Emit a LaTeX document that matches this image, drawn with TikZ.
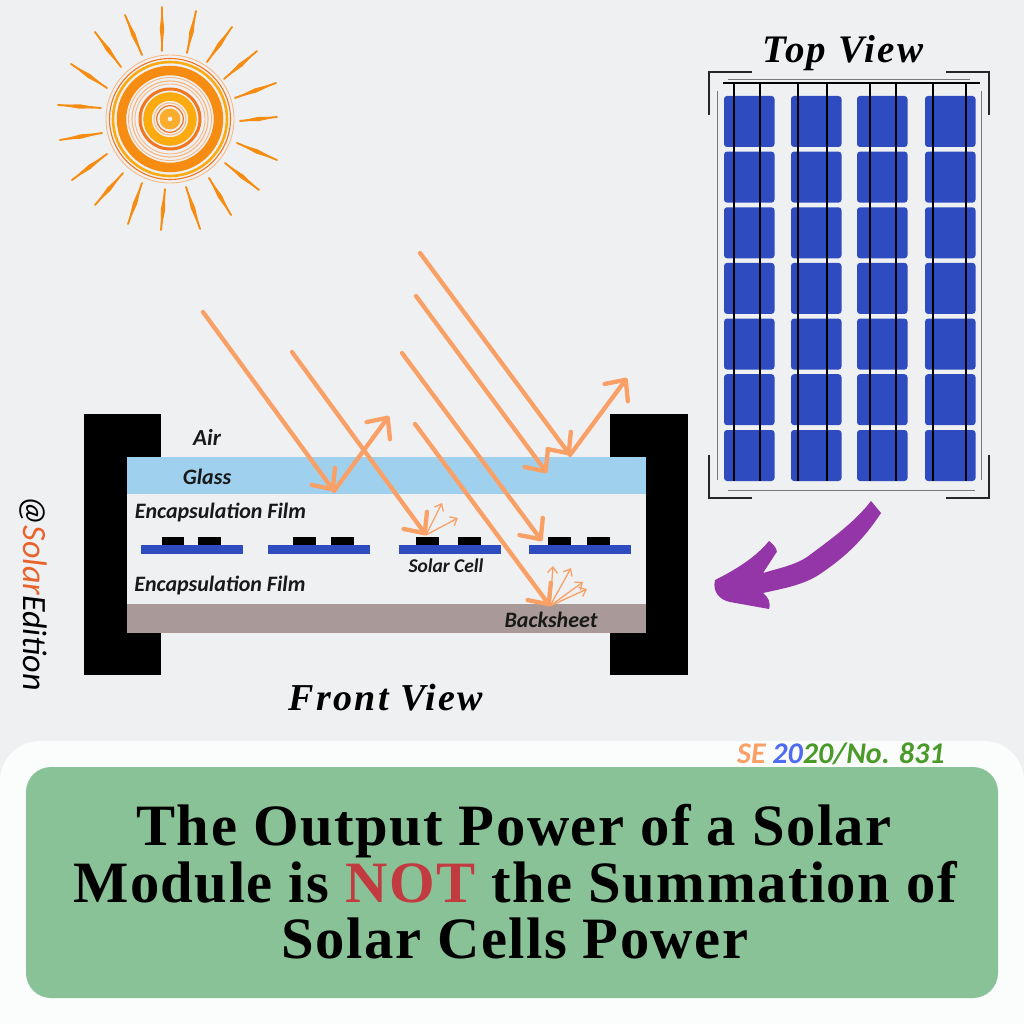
\documentclass[tikz,border=0pt]{standalone}
\usepackage{fontspec}
\setmainfont{Liberation Serif}
\setsansfont{Carlito}
\newfontfamily\titlefont[LetterSpace=2.5]{Liberation Serif}
\newfontfamily\viewfont[LetterSpace=6]{Liberation Serif}
\usetikzlibrary{arrows.meta,calc}

\definecolor{pagegrey}{HTML}{EFF0F2}
\definecolor{panelwhite}{HTML}{FBFCFC}
\definecolor{panelgreen}{HTML}{8AC298}
\definecolor{notred}{HTML}{C23B40}
\definecolor{beam}{HTML}{F9A066}
\definecolor{glassblue}{HTML}{9FD1EF}
\definecolor{backbrown}{HTML}{AA9999}
\definecolor{cellblue}{HTML}{2E4BC0}
\definecolor{bendpurple}{HTML}{9436A8}
\definecolor{sunorange}{HTML}{F68D12}
\definecolor{sunamber}{HTML}{FBAA0F}
\definecolor{sundeep}{HTML}{F2761E}
\definecolor{sunpale}{HTML}{F9B882}
\definecolor{solarorange}{HTML}{E8632B}
\definecolor{yearblue}{HTML}{4D6CF0}
\definecolor{yeargreen}{HTML}{4A9A2A}
\definecolor{railgrey}{HTML}{77787A}

\tikzset{
  beamline/.style={line width=4.3pt,color=beam,line cap=round,
    -{Straight Barb[length=16pt,width=29pt,line width=4.3pt,round]}},
  scatterline/.style={line width=1.3pt,color=beam,
    -{Straight Barb[length=6pt,width=10pt,line width=1.3pt]}},
  layerlabel/.style={font=\sffamily\itshape\bfseries\fontsize{22}{22}\selectfont,text=black!90},
  viewlabel/.style={font=\viewfont\itshape\bfseries\fontsize{38}{38}\selectfont},
  titleline/.style={anchor=base,font=\titlefont\bfseries\fontsize{58.6}{58.6}\selectfont},
  cornermark/.style={line width=1.5pt,black!85},
  busline/.style={line width=1.4pt,black},
  railline/.style={line width=1pt,railgrey},
  ring/.style={line width=#1,draw}
}

\begin{document}
\begin{tikzpicture}[x=1pt,y=-1pt]
\useasboundingbox (0,0) rectangle (1024,1024);
\fill[pagegrey] (0,0) rectangle (1024,1024);

% sun
\foreach \xa/\ya/\xb/\yb in {162/51/162/7,187/53/196/11,207/62/232/27,224/79/257/51,
  235/98/276/83,240/121/277/117,237/143/277/160,225/163/259/190,209/178/231/215,
  186/187/200/229,165/189/161/230,142/183/128/224,123/173/95/205,107/154/72/180,
  102/133/60/140,101/108/58/105,107/88/71/64,121/67/95/32,142/55/125/15}{
  \coordinate (raya) at (\xa,\ya);
  \coordinate (rayb) at (\xb,\yb);
  \draw[sunorange,line width=1.9pt,line cap=round] (raya) -- (rayb);
  \fill[sunorange] (raya) -- ($(raya)!.5!(rayb)!2.2pt!90:(rayb)$) -- (rayb)
    -- ($(raya)!.5!(rayb)!2.2pt!-90:(rayb)$) -- cycle;
}
\coordinate (sun) at (170,119);
\draw[sunpale,ring=.9pt] (sun) circle (64);
\draw[sundeep,ring=1.1pt] (sun) circle (60.5);
\draw[sunamber,ring=2.6pt] (sun) circle (57);
\draw[sunorange,ring=9.5pt] (sun) circle (48.5);
\draw[sunpale,ring=.9pt] (sun) circle (41.5);
\draw[sunpale,ring=1.2pt] (sun) circle (38);
\draw[sunpale,ring=.9pt] (sun) circle (35);
\draw[sundeep,ring=3pt] (sun) circle (30);
\draw[sunamber,ring=8.5pt] (sun) circle (22.5);
\draw[sunpale,ring=1pt] (sun) circle (16);
\draw[sundeep,ring=1.2pt] (sun) circle (13.3);
\fill[sunamber!75!sunpale] (sun) circle (10.5);
\fill[pagegrey] (sun) circle (2.3);

% front view, frame and layers
\fill[black] (84,414) rectangle (161,675);
\fill[black] (610,414) rectangle (688,675);
\fill[pagegrey] (127,457) rectangle (646,633);
\fill[glassblue] (127,457) rectangle (646,494);
\fill[backbrown] (127,604) rectangle (646,633);

% solar cells
\foreach \xa in {141,268,399,529}
  \fill[cellblue] (\xa,545) rectangle ++(102,9);
\foreach \xa in {161.5,198,293,331,416,458,548,587}
  \fill[black] (\xa,537) rectangle ++(22.5,8);

% labels of the layers
\node[layerlabel,font=\sffamily\itshape\bfseries\fontsize{23}{23}\selectfont] (air) at (207,437) {Air};
\node[layerlabel] (glass) at (207,477) {Glass};
\node[layerlabel] (filmtop) at (220.5,513) {Encapsulation Film};
\node[layerlabel] (filmbottom) at (220,585) {Encapsulation Film};
\node[layerlabel,font=\sffamily\itshape\bfseries\fontsize{19.5}{19.5}\selectfont] (cell) at (446,566) {Solar Cell};
\node[layerlabel] (back) at (551,620) {Backsheet};
\node[viewlabel] (front) at (386,698) {Front View};

% rays
\coordinate (rayas) at (203,312);
\coordinate (rayae) at (334,491);
\coordinate (rayar) at (389,416);
\coordinate (raybs) at (292,352);
\coordinate (raybe) at (426,535);
\coordinate (raycs) at (402,353);
\coordinate (rayce) at (542,541);
\coordinate (rayds) at (415,424);
\coordinate (rayde) at (550,606);
\coordinate (rayes) at (416,296);
\coordinate (rayee) at (547,473);
\coordinate (rayfs) at (420,253);
\coordinate (rayfe) at (570,455);
\coordinate (rayfr) at (627,378);
\draw[beamline] (rayas) -- (rayae);
\draw[beamline] (rayae) -- (rayar);
\draw[beamline] (raybs) -- (raybe);
\draw[beamline] (raycs) -- (rayce);
\draw[beamline] (rayds) -- (rayde);
\draw[beamline] (rayes) -- (rayee);
\draw[beamline] (rayfs) -- (rayfe);
\draw[beamline] (rayfe) -- (rayfr);

% scattered light
\coordinate (scata) at (442,503);
\coordinate (scatb) at (458,518);
\coordinate (scatc) at (553,566);
\coordinate (scatd) at (571,568);
\coordinate (scate) at (583,582);
\coordinate (scatf) at (587,589);
\draw[scatterline] (raybe) -- (scata);
\draw[scatterline] (raybe) -- (scatb);
\draw[scatterline] (rayde) -- (scatc);
\draw[scatterline] (rayde) -- (scatd);
\draw[scatterline] (rayde) -- (scate);
\draw[scatterline] (rayde) -- (scatf);

% top view
\node[viewlabel,font=\viewfont\itshape\bfseries\fontsize{39}{39}\selectfont] (top) at (843,53) {Top View};
\foreach \xa in {724,791,857,925}
  \foreach \ya in {96,151.6,207.3,262.9,318.6,374.2,430}
    \fill[cellblue,rounded corners=3pt] (\xa,\ya) rectangle ++(50.5,51);
\foreach \xa in {734,760,798,827,870,896,933,966}
  \draw[busline] (\xa,83) -- (\xa,481);
\draw[busline] (723,83) -- (980,83);
\draw[railline] (728,80) -- (970,80);
\draw[railline] (728,490) -- (975,490);
\draw[railline] (717,91) -- (717,480);
\draw[railline] (981,91) -- (981,480);
\draw[cornermark] (709,115) -- (709,72) -- (752,72);
\draw[cornermark] (946,72) -- (989,72) -- (989,115);
\draw[cornermark] (709,455) -- (709,498) -- (752,498);
\draw[cornermark] (946,498) -- (989,498) -- (989,455);

% bent arrow
\fill[bendpurple] (871,501) -- (881,513) .. controls (860,545) and (840,560) .. (823,572)
  .. controls (805,585) and (785,588) .. (763,593) .. controls (768,597) and (771,602) .. (769,609)
  -- (730,602) .. controls (720,600) and (712,592) .. (715,580)
  .. controls (735,570) and (755,558) .. (769,541) .. controls (777,547) and (778,553) .. (776,553)
  -- (763,573) .. controls (780,568) and (795,565) .. (807,557) .. controls (830,540) and (855,522) .. (871,501) -- cycle;

% watermark
\node[rotate=-90,font=\sffamily\itshape\fontsize{34}{34}\selectfont] (mark) at (33,593)
  {@\textcolor{solarorange}{Solar}Edition};

% bottom panel
\fill[panelwhite,rounded corners=40pt] (0,741) rectangle (1024,1064);
\fill[panelgreen,rounded corners=25pt] (26,767) rectangle (998,998);
\node[anchor=east,font=\sffamily\itshape\bfseries\fontsize{30}{30}\selectfont,text=yeargreen] (issue) at (948,754)
  {\textcolor{beam}{SE} \textcolor{yearblue}{20}20/No. 831};
\node[titleline] (titlea) at (514,845) {The Output Power of a Solar};
\node[titleline] (titleb) at (515,902) {Module is \textcolor{notred}{NOT} the Summation of};
\node[titleline] (titlec) at (515,958) {Solar Cells Power};
\end{tikzpicture}
\end{document}
